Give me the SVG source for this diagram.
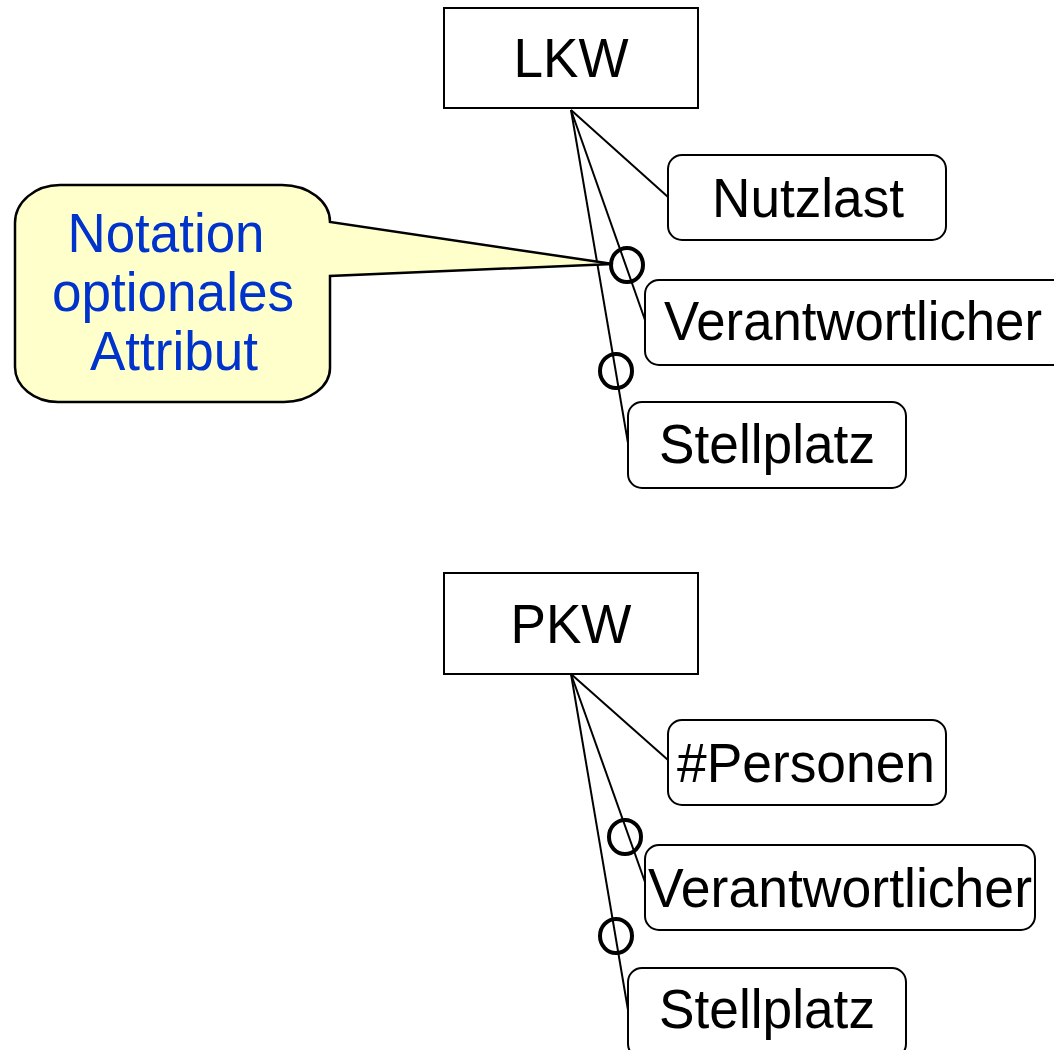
<svg xmlns="http://www.w3.org/2000/svg" width="1054" height="1050" viewBox="0 0 1054 1050">
  <style>
    .entity { fill: #ffffff; stroke: #000000; stroke-width: 2; }
    .attr { fill: #ffffff; stroke: #000000; stroke-width: 2; }
    .label { font-family: "Liberation Sans", Arial, sans-serif; font-size: 55px; fill: #000000; text-anchor: middle; }
    .link { stroke: #000000; stroke-width: 2; fill: none; }
    .opt { fill: none; stroke: #000000; stroke-width: 4; }
    .note { fill: #ffffcc; stroke: #000000; stroke-width: 2.5; }
    .noteText { font-family: "Liberation Sans", Arial, sans-serif; font-size: 55px; fill: #0033cc; text-anchor: middle; }
  </style>

  <rect width="1054" height="1050" fill="#ffffff"/>

  <!-- connectors: entity to attributes -->
  <g id="connectors">
    <line class="link" x1="571" y1="110" x2="668" y2="197"/>
    <line class="link" x1="571" y1="110" x2="645" y2="320"/>
    <line class="link" x1="571" y1="110" x2="628" y2="443"/>
    <line class="link" x1="571" y1="674" x2="668" y2="760"/>
    <line class="link" x1="571" y1="674" x2="645" y2="882"/>
    <line class="link" x1="571" y1="674" x2="628" y2="1010"/>
    <!-- optional markers -->
    <ellipse class="opt" cx="627" cy="265" rx="16" ry="17"/>
    <ellipse class="opt" cx="616" cy="371" rx="16" ry="17"/>
    <ellipse class="opt" cx="625" cy="837" rx="16" ry="17"/>
    <ellipse class="opt" cx="616" cy="936" rx="16" ry="17"/>
  </g>

  <!-- callout -->
  <g id="callout">
    <path class="note" d="M 60,185 H 282 A 48 37 0 0 1 330,222 L 613,264 L 330,276 V 368 A 46 34 0 0 1 284,402 H 58 A 43 35 0 0 1 15,367 V 223 A 45 38 0 0 1 60,185 Z"/>
    <text class="noteText" x="166" y="252" textLength="197" lengthAdjust="spacingAndGlyphs">Notation</text>
    <text class="noteText" x="173" y="311" textLength="242" lengthAdjust="spacingAndGlyphs">optionales</text>
    <text class="noteText" x="174" y="370" textLength="168" lengthAdjust="spacingAndGlyphs">Attribut</text>
  </g>

  <g id="lkw">
    <rect class="entity" x="444" y="8" width="254" height="100"/>
    <text class="label" x="571" y="77" textLength="115" lengthAdjust="spacingAndGlyphs">LKW</text>
  </g>
  <g id="lkw-nutzlast">
    <rect class="attr" x="668" y="155" width="278" height="85" rx="14"/>
    <text class="label" x="808" y="217" textLength="192" lengthAdjust="spacingAndGlyphs">Nutzlast</text>
  </g>
  <g id="lkw-verantwortlicher">
    <rect class="attr" x="645" y="280" width="430" height="85" rx="14"/>
    <text class="label" x="853" y="340" textLength="378" lengthAdjust="spacingAndGlyphs">Verantwortlicher</text>
  </g>
  <g id="lkw-stellplatz">
    <rect class="attr" x="628" y="402" width="278" height="86" rx="14"/>
    <text class="label" x="767" y="463" textLength="216" lengthAdjust="spacingAndGlyphs">Stellplatz</text>
  </g>

  <g id="pkw">
    <rect class="entity" x="444" y="573" width="254" height="101"/>
    <text class="label" x="571" y="643" textLength="121" lengthAdjust="spacingAndGlyphs">PKW</text>
  </g>
  <g id="pkw-personen">
    <rect class="attr" x="668" y="720" width="278" height="85" rx="14"/>
    <text class="label" x="806" y="782" textLength="258" lengthAdjust="spacingAndGlyphs">#Personen</text>
  </g>
  <g id="pkw-verantwortlicher">
    <rect class="attr" x="645" y="845" width="390" height="85" rx="14"/>
    <text class="label" x="840" y="907" textLength="384" lengthAdjust="spacingAndGlyphs">Verantwortlicher</text>
  </g>
  <g id="pkw-stellplatz">
    <rect class="attr" x="628" y="968" width="278" height="90" rx="14"/>
    <text class="label" x="767" y="1028" textLength="216" lengthAdjust="spacingAndGlyphs">Stellplatz</text>
  </g>
</svg>
